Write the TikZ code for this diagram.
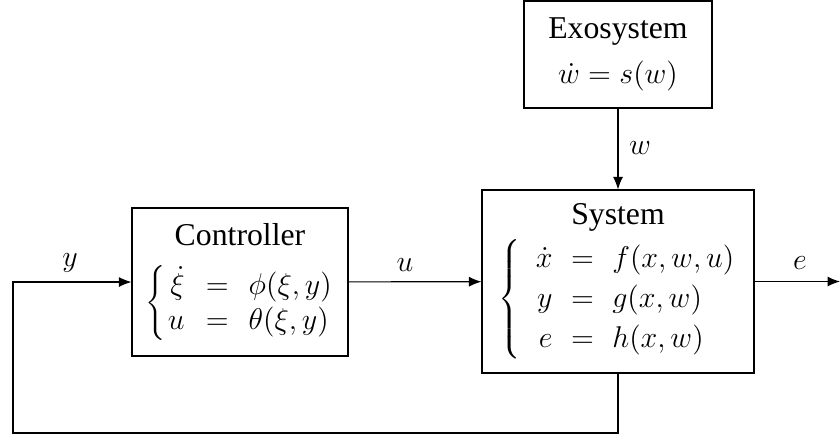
\documentclass[tikz,border=0pt]{standalone}
\usepackage[no-math]{fontspec}
\setmainfont{Liberation Serif}
\usetikzlibrary{arrows.meta}
\newcommand\mymath[2]{{\fontsize{12}{15.2}\selectfont\renewcommand\arraystretch{#1}$#2$}}
\begin{document}
\begin{tikzpicture}[x=0.4pt,y=-0.4pt,
  every node/.style={font=\fontsize{12.7}{15.24}\selectfont},
  blk/.style={draw, line width=0.45pt, align=center, inner sep=0pt},
  sig/.style={line width=0.45pt, -{Latex[length=5pt,width=4pt]}},
  lbl/.style={inner sep=0pt}]
\useasboundingbox (0,0) rectangle (840,436);
\node[blk, minimum width=75.2pt, minimum height=42.8pt] (exo) at (618,54.5)
  {Exosystem\\[3pt] \mymath{1}{\dot w = s(w)}};
\node[blk, minimum width=108.8pt, minimum height=73.2pt] (sys) at (618,281.5)
  {System\\[2pt] \mymath{1.05}{\left\{\begin{array}{@{\hspace{6pt}}r@{\hspace{7.4pt}=\hspace{7.4pt}}l@{}}
     \dot x & f(x,w,u)\\ y & g(x,w)\\ e & h(x,w)\end{array}\right.}};
\node[blk, minimum width=86.4pt, minimum height=59.2pt] (ctrl) at (240,282)
  {Controller\\[7pt] \mymath{0.9}{\left\{\begin{array}{@{\hspace{1pt}}r@{\hspace{8.5pt}=\hspace{8pt}}l@{}}
     \dot \xi & \phi(\xi,y)\\ u & \theta(\xi,y)\end{array}\right.}};
\coordinate (eout) at (840,281.5);
\coordinate (fb) at (13,433);
\draw[sig] (exo) -- (sys);
\draw[sig] (ctrl) -- (sys);
\draw[sig] (sys.east) -- (eout);
\draw[sig] (sys.south) |- (fb) |- (ctrl.west);
\node[lbl] (ly) at (70,263) {\mymath{1}{y}};
\node[lbl] (lu) at (405,265) {\mymath{1}{u}};
\node[lbl] (le) at (800,263) {\mymath{1}{e}};
\node[lbl] (lw) at (640,148) {\mymath{1}{w}};
\end{tikzpicture}
\end{document}
